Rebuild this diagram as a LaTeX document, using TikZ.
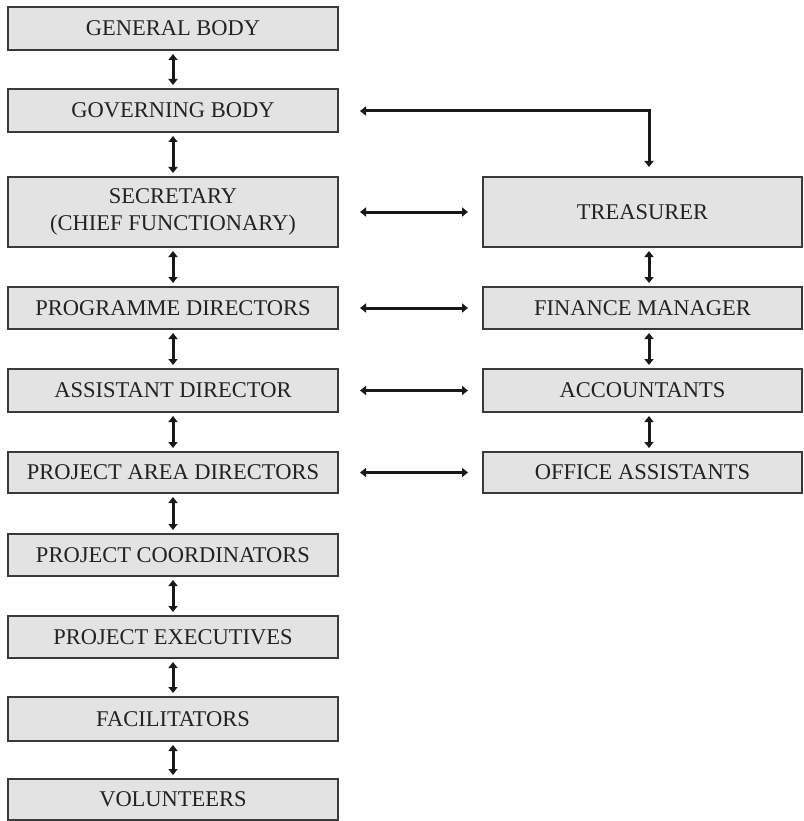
\documentclass[tikz,border=0pt]{standalone}
\usepackage{fontspec}
\setmainfont{Liberation Serif}
\usetikzlibrary{arrows.meta}
\definecolor{boxfill}{HTML}{E3E3E3}
\definecolor{boxline}{HTML}{3A3A3A}
\definecolor{txt}{HTML}{222222}
\tikzset{
  orgbox/.style={draw=boxline, line width=1.2pt, fill=boxfill, inner sep=0pt, outer sep=0pt,
    text=txt, align=center, font=\fontsize{22.5}{27}\selectfont},
  leftbox/.style={orgbox, minimum width=330pt, minimum height=43pt},
  rightbox/.style={orgbox, minimum width=319pt, minimum height=42pt},
  link/.style={line width=3pt, draw=black!90, {Triangle[width=9pt,length=6pt]}-{Triangle[width=9pt,length=6pt]}},
  vlink/.style={link, shorten >=4pt, shorten <=4pt},
  hlink/.style={link, shorten <=22pt, shorten >=15pt},
}
\begin{document}
\begin{tikzpicture}[x=1pt,y=-1pt]
\useasboundingbox (0,0) rectangle (803,821);
% left column
\node[leftbox] (gen) at (173,28.5) {GENERAL BODY};
\node[leftbox] (gov) at (173,110.5) {GOVERNING BODY};
\node[leftbox, minimum height=70pt] (sec) at (173,212) {SECRETARY\\(CHIEF FUNCTIONARY)};
\node[leftbox, minimum height=42pt] (prog) at (173,308) {PROGRAMME DIRECTORS};
\node[leftbox] (asst) at (173,390.5) {ASSISTANT DIRECTOR};
\node[leftbox, minimum height=41pt] (pad) at (173,472.5) {PROJECT AREA DIRECTORS};
\node[leftbox, minimum height=42pt] (pc) at (173,555) {PROJECT COORDINATORS};
\node[leftbox, minimum height=42pt] (pe) at (173,637) {PROJECT EXECUTIVES};
\node[leftbox, minimum height=44pt] (fac) at (173,719) {FACILITATORS};
\node[leftbox, minimum height=41pt] (vol) at (173,799.5) {VOLUNTEERS};
% right column
\node[rightbox, minimum height=70pt] (treas) at (642.5,212) {TREASURER};
\node[rightbox] (fm) at (642.5,308) {FINANCE MANAGER};
\node[rightbox, minimum height=43pt] (acc) at (642.5,390.5) {ACCOUNTANTS};
\node[rightbox, minimum height=41pt] (oa) at (642.5,472.5) {OFFICE ASSISTANTS};
\coordinate (rx) at (649,0);
\coordinate (elbow) at (649,111);
% vertical links, left
\draw[vlink] (gen) -- (gov);
\draw[vlink] (gov) -- (sec);
\draw[vlink] (sec) -- (prog);
\draw[vlink] (prog) -- (asst);
\draw[vlink] (asst) -- (pad);
\draw[vlink] (pad) -- (pc);
\draw[vlink] (pc) -- (pe);
\draw[vlink] (pe) -- (fac);
\draw[vlink] (fac) -- (vol);
% vertical links, right
\draw[vlink] (treas.south -| rx) -- (fm.north -| rx);
\draw[vlink] (fm.south -| rx) -- (acc.north -| rx);
\draw[vlink] (acc.south -| rx) -- (oa.north -| rx);
% horizontal links
\draw[hlink] (sec) -- (treas);
\draw[hlink] (prog) -- (fm);
\draw[hlink] (asst) -- (acc);
\draw[hlink] (pad) -- (oa);
% elbow from governing body to treasurer
\draw[line width=3pt, draw=black!90, line join=miter, {Triangle[width=9pt,length=6pt]}-{Triangle[width=9pt,length=6pt]}, shorten <=22pt, shorten >=10pt]
  (gov.east |- elbow) -- (elbow) -- (treas.north -| rx);
\end{tikzpicture}
\end{document}
